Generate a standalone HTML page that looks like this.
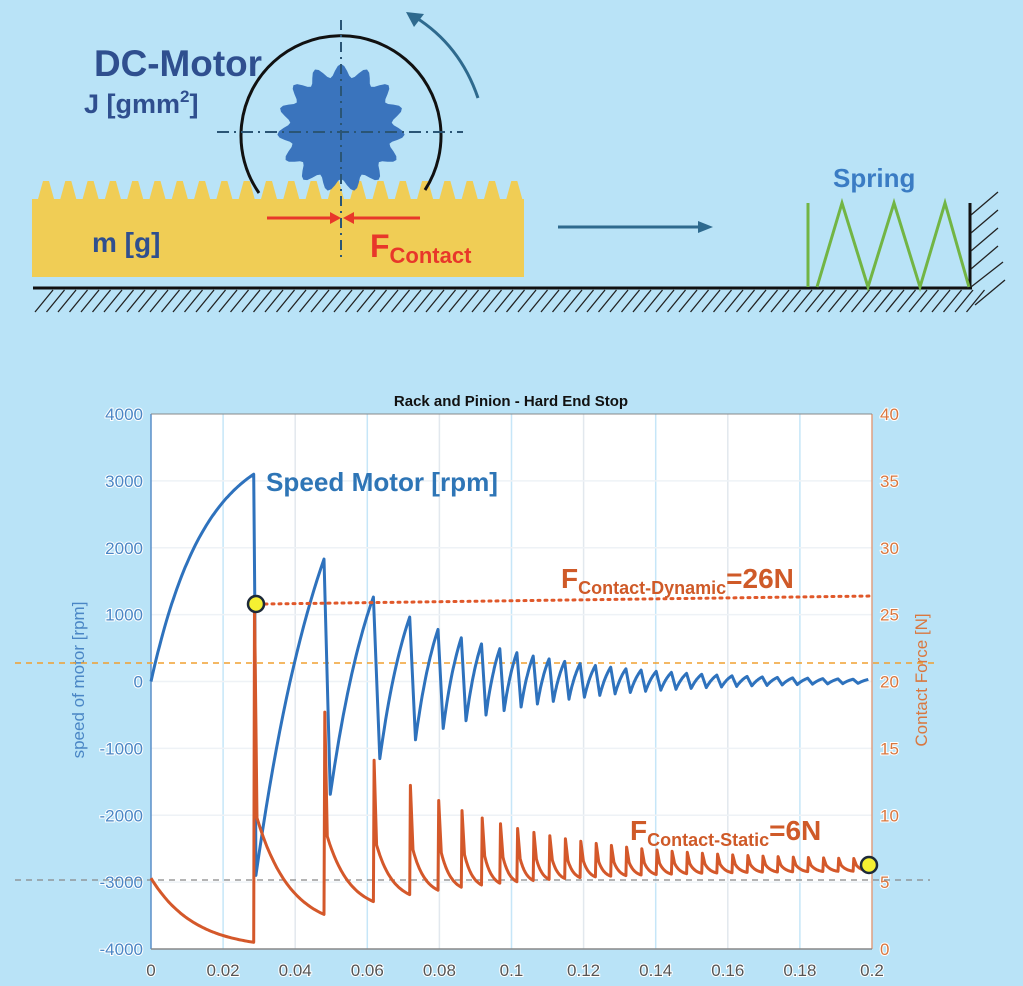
<!DOCTYPE html>
<html><head><meta charset="utf-8"><style>
html,body{margin:0;padding:0;background:#b9e3f7;}
svg{display:block}
</style></head><body>
<svg id="s" width="1023" height="986" xmlns="http://www.w3.org/2000/svg" font-family="'Liberation Sans', sans-serif">
<rect width="1023" height="986" fill="#b9e3f7"/>
<g id="hat" stroke="#222" stroke-width="1.3"></g>
<line x1="33" y1="288" x2="972" y2="288" stroke="#111" stroke-width="3"/>
<!-- wall -->
<line x1="970" y1="203" x2="970" y2="288" stroke="#111" stroke-width="3"/>
<g stroke="#222" stroke-width="1.3">
<line x1="971" y1="215" x2="998" y2="192"/><line x1="971" y1="233" x2="998" y2="210"/>
<line x1="971" y1="251" x2="998" y2="228"/><line x1="971" y1="269" x2="998" y2="246"/>
<line x1="971" y1="287" x2="1003" y2="262"/><line x1="975" y1="305" x2="1005" y2="280"/>
</g>
<path id="rack" fill="#f0cd55" d=""/>
<path d="M259,193 A100,100 0 1,1 425,190" fill="none" stroke="#111" stroke-width="3"/>
<path d="M478,98 Q460,45 415,17" fill="none" stroke="#2e6a8e" stroke-width="3"/>
<polygon points="406,12 424,14 414,27" fill="#2e6a8e"/>
<path id="gear" fill="#3a74bd" d=""/>
<line x1="217" y1="132" x2="463" y2="132" stroke="#2a5575" stroke-width="2" stroke-dasharray="12,5,2,5"/>
<line x1="341" y1="20" x2="341" y2="262" stroke="#2a5575" stroke-width="2" stroke-dasharray="10,5,2,5"/>
<line x1="267" y1="218" x2="332" y2="218" stroke="#e8372a" stroke-width="3"/>
<polygon points="330,212 341,218 330,224" fill="#e8372a"/>
<line x1="420" y1="218" x2="352" y2="218" stroke="#e8372a" stroke-width="3"/>
<polygon points="354,212 343,218 354,224" fill="#e8372a"/>
<text x="94" y="76" font-size="37" font-weight="bold" fill="#2f4f8f" textLength="168" lengthAdjust="spacingAndGlyphs">DC-Motor</text>
<text x="84" y="113" font-size="27" font-weight="bold" fill="#2f4f8f">J [gmm<tspan font-size="17" dy="-11">2</tspan><tspan dy="11">]</tspan></text>
<text x="92" y="252" font-size="28" font-weight="bold" fill="#2f4f8f">m [g]</text>
<text x="370" y="257" font-size="32" font-weight="bold" fill="#e8372a">F<tspan font-size="22" dy="6">Contact</tspan></text>
<line x1="558" y1="227" x2="700" y2="227" stroke="#2e6a8e" stroke-width="3"/>
<polygon points="698,221 713,227 698,233" fill="#2e6a8e"/>
<text x="833" y="187" font-size="26" font-weight="bold" fill="#3a7cc4">Spring</text>
<polyline points="808,203 808,287" fill="none" stroke="#72b544" stroke-width="3"/>
<polyline points="817,287 842,203 868,287 894,203 920,287 945,203 969,287" fill="none" stroke="#72b544" stroke-width="3"/>

<text x="511" y="406" font-size="15" font-weight="bold" text-anchor="middle" fill="#111">Rack and Pinion - Hard End Stop</text>
<rect x="151" y="414" width="721" height="535" fill="#fff"/>
<g id="grid"></g>
<line x1="151" y1="414" x2="151" y2="949" stroke="#5b8fc9" stroke-width="1.5"/>
<line x1="872" y1="414" x2="872" y2="949" stroke="#e0a080" stroke-width="1.5"/>
<line x1="151" y1="949" x2="872" y2="949" stroke="#888" stroke-width="1.5"/>
<line x1="151" y1="414" x2="872" y2="414" stroke="#888" stroke-width="1"/>
<g id="ticks" font-size="17"></g>
<text transform="translate(84,680) rotate(-90)" font-size="17" fill="#4a86c5" text-anchor="middle">speed of motor [rpm]</text>
<text transform="translate(927,680) rotate(-90)" font-size="17" fill="#d9773f" text-anchor="middle">Contact Force [N]</text>
<line x1="15" y1="663" x2="935" y2="663" stroke="#f0a030" stroke-width="1.5" stroke-dasharray="6,5"/>
<line x1="15" y1="880" x2="930" y2="880" stroke="#888" stroke-width="1.3" stroke-dasharray="6,5"/>
<path id="spd" fill="none" stroke="#2e72bd" stroke-width="3" stroke-linejoin="round"/>
<path id="frc" fill="none" stroke="#d4582a" stroke-width="3" stroke-linejoin="round"/>
<line x1="265" y1="604" x2="872" y2="596" stroke="#e0582a" stroke-width="3" stroke-dasharray="2,5" stroke-linecap="round"/>
<circle cx="256" cy="604" r="8" fill="#f5f032" stroke="#1d2a3a" stroke-width="2.5"/>
<circle cx="869" cy="865" r="8" fill="#f5f032" stroke="#1d2a3a" stroke-width="2.5"/>
<text x="266" y="491" font-size="26" font-weight="bold" fill="#2e75b6" textLength="232" lengthAdjust="spacingAndGlyphs">Speed Motor [rpm]</text>
<text x="561" y="588" font-size="28" font-weight="bold" fill="#cf5a28">F<tspan font-size="18" dy="6">Contact-Dynamic</tspan><tspan dy="-6">=26N</tspan></text>
<text x="630" y="840" font-size="28" font-weight="bold" fill="#cf5a28">F<tspan font-size="18" dy="6">Contact-Static</tspan><tspan dy="-6">=6N</tspan></text>
</svg>
<script>
var NS="http://www.w3.org/2000/svg";
function el(p,t,a,txt){var e=document.createElementNS(NS,t);for(var k in a)e.setAttribute(k,a[k]);if(txt!=null)e.textContent=txt;p.appendChild(e);return e;}
var H=document.getElementById("hat");
for(var x=38;x<975;x+=11.5){el(H,"line",{x1:x-3,y1:312,x2:x+15,y2:290});}
var d="M32,277 L32,199 ";
for(var i=0;i<22;i++){var b=38+i*22.3;d+="L"+(b)+",199 L"+(b+5)+",181 L"+(b+11)+",181 L"+(b+16)+",199 ";}
d+="L524,199 L524,277 Z";document.getElementById("rack").setAttribute("d",d);
var g="",cx=341,cy=128,n=15;
for(var i=0;i<=n*8;i++){var a=i/(n*8)*2*Math.PI-Math.PI/2;var f=(i%8)/8;
var r=51+13*(0.5+0.5*Math.cos(f*2*Math.PI));g+=(i?"L":"M")+(cx+r*Math.cos(a)).toFixed(1)+","+(cy+r*Math.sin(a)).toFixed(1)+" ";}
document.getElementById("gear").setAttribute("d",g+"Z");
var G=document.getElementById("grid"),T=document.getElementById("ticks");
function X(t){return 151+t/0.2*721;}function YS(v){return 681.5-v*535/8000;}function YF(f){return 949-f*535/40;}
for(var i=1;i<10;i++){var xx=X(i*0.02);el(G,"line",{x1:xx,y1:414,x2:xx,y2:949,stroke:(i%2?"#c6e6f8":"#e2e8ee"),"stroke-width":1.5});}
for(var i=1;i<8;i++){var yy=414+i*535/8;el(G,"line",{x1:151,y1:yy,x2:872,y2:yy,stroke:"#eef2f6","stroke-width":1.5});}
var xl=["0","0.02","0.04","0.06","0.08","0.1","0.12","0.14","0.16","0.18","0.2"];
for(var i=0;i<=10;i++){el(T,"text",{x:X(i*0.02),y:976,"text-anchor":"middle",fill:"#555",stroke:"#fff","stroke-width":2,"paint-order":"stroke"},xl[i]);}
for(var i=0;i<=8;i++){var v=4000-i*1000;el(T,"text",{x:143,y:414+i*535/8+6,"text-anchor":"end",fill:"#4a86c5",stroke:"#fff","stroke-width":2,"paint-order":"stroke"},String(v));
el(T,"text",{x:880,y:414+i*535/8+6,fill:"#d9773f",stroke:"#fff","stroke-width":2,"paint-order":"stroke"},String(40-i*5));}
var Ts=[0.0285],t=0.0285;for(var k=0;k<80;k++){t+=0.0042+0.0153*Math.pow(0.62,k);Ts.push(t);}
function P(t){return 3100*Math.exp(-(t-0.0285)/0.037);}
function M(t){return -2900*Math.exp(-(t-0.0285)/0.036);}
function FP(t){return 6.6+19.4*Math.exp(-(t-0.0285)/0.035);}
function FH(t){return 6.2+3.6*Math.exp(-(t-0.0285)/0.04);}
function FL(t){return 5.9-5.4*Math.exp(-(t-0.0285)/0.04);}
var sp=[],fp=[];
for(var i=0;i<=60;i++){var tt=0.0285*i/60;sp.push([tt,3100*(1-Math.exp(-tt/0.015))/(1-Math.exp(-0.0285/0.015))]);
fp.push([tt,0.5+4.8*(Math.exp(-tt/0.012)-Math.exp(-0.0285/0.012))/(1-Math.exp(-0.0285/0.012))]);}
for(var k=0;k<Ts.length-1&&Ts[k]<0.2;k++){
 var a=Ts[k],b=Ts[k+1],p=b-a;var dd=p*(0.03+0.3*(1-Math.exp(-(a-0.0285)/0.05)));
 var mn=M(a),nx=P(b);
 if(k==0){sp.push([a+0.0003,1200]);}
 sp.push([a+dd,mn]);
 var N=20;for(var j=1;j<=N;j++){var s=j/N;var sh=(1-Math.exp(-0.9*s))/(1-Math.exp(-0.9));var u=a+dd+(p-dd)*s;sp.push([u,mn+(nx-mn)*sh]);}
 var fpk=FP(a),fh=FH(a),fl=FL(b);var w=Math.min(0.0009,p*0.25);
 fp.push([a+0.0002,fpk]);fp.push([a+w,fh]);
 for(var j=1;j<=N;j++){var s=j/N;var u=a+w+(p-w)*s;var sh=(1-Math.exp(-2*s))/(1-Math.exp(-2));fp.push([u,fh+(fl-fh)*sh]);}
}
function path(arr,Y){var s="";for(var i=0;i<arr.length;i++){if(arr[i][0]>0.2)break;s+=(i?"L":"M")+X(arr[i][0]).toFixed(1)+","+Y(arr[i][1]).toFixed(1)+" ";}return s;}
document.getElementById("spd").setAttribute("d",path(sp,YS));
document.getElementById("frc").setAttribute("d",path(fp,YF));
</script>
</body></html>
